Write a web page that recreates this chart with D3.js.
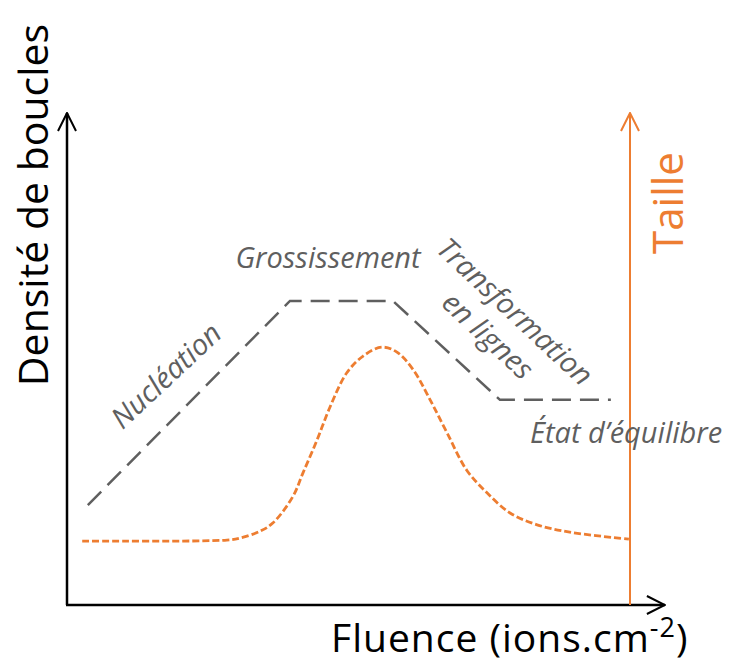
<!DOCTYPE html>
<html>
<head>
<meta charset="utf-8">
<script src="https://cdn.jsdelivr.net/npm/d3@7"></script>
<style>
  html, body { margin: 0; padding: 0; background: #fff; }
  svg { display: block; }
</style>
</head>
<body>
<svg id="chart" width="734" height="664"></svg>
<script>
// Loop density (schematic), fluence in arbitrary units 0..100
const densityFluence = [3.7, 39.6, 57.9, 76.9, 96.6];
const densityValues  = [20.3, 61.8, 61.8, 41.7, 41.7];

// Loop size (schematic)
const sizeFluence = [2.7, 28.4, 30.7, 34.3, 36.6, 40.1, 41.9, 44.4, 46.7, 49.7, 52.6, 55.9, 58.6, 61.5, 64.5, 67.5, 71.0, 74.6, 78.7, 83.5, 89.3, 99.8];
const sizeValues  = [13.0, 13.2, 13.6, 15.0, 16.7, 22.0, 26.8, 33.5, 40.2, 47.2, 50.6, 52.4, 51.4, 47.8, 41.7, 35.0, 27.4, 22.8, 18.7, 16.3, 14.8, 13.4];

// Stage labels
const stageLabels = ["Nucléation", "Grossissement", "Transformation", "en lignes", "État d’équilibre"];

const svg = d3.select("#chart");
const orange = "#ED7D31";
const grey = "#5f5f5f";
const font = "'Open Sans', 'Noto Sans', sans-serif";

const x = d3.scaleLinear().domain([0, 100]).range([67, 630]);
const y = d3.scaleLinear().domain([0, 100]).range([605, 113]);

// Arrow heads
const defs = svg.append("defs");
function arrowMarker(id, color) {
  defs.append("marker")
    .attr("id", id)
    .attr("viewBox", "0 0 20 20")
    .attr("refX", 19).attr("refY", 10)
    .attr("markerWidth", 20).attr("markerHeight", 20)
    .attr("markerUnits", "userSpaceOnUse")
    .attr("orient", "auto")
    .append("path")
    .attr("d", "M1,1 L19,10 L1,19")
    .attr("fill", "none")
    .attr("stroke", color)
    .attr("stroke-width", 2);
}
arrowMarker("arrowBlack", "#000");
arrowMarker("arrowOrange", orange);

// Left (density) axis
svg.append("line")
  .attr("x1", x(0)).attr("y1", y(0))
  .attr("x2", x(0)).attr("y2", y(100))
  .attr("stroke", "#000").attr("stroke-width", 2.5)
  .attr("marker-end", "url(#arrowBlack)");

// Fluence axis
svg.append("line")
  .attr("x1", x(0) - 1).attr("y1", y(0))
  .attr("x2", x(106.2)).attr("y2", y(0))
  .attr("stroke", "#000").attr("stroke-width", 2.5)
  .attr("marker-end", "url(#arrowBlack)");

// Right (size) axis
svg.append("line")
  .attr("x1", x(100)).attr("y1", y(0))
  .attr("x2", x(100)).attr("y2", y(100))
  .attr("stroke", orange).attr("stroke-width", 2)
  .attr("marker-end", "url(#arrowOrange)");

// Density curve
const densityLine = d3.line()
  .x((d, i) => x(densityFluence[i]))
  .y(d => y(d));
svg.append("path")
  .attr("d", densityLine(densityValues))
  .attr("fill", "none")
  .attr("stroke", grey)
  .attr("stroke-width", 2.5)
  .attr("stroke-dasharray", "19,9");

// Size curve
const sizeLine = d3.line()
  .x((d, i) => x(sizeFluence[i]))
  .y(d => y(d))
  .curve(d3.curveCatmullRom.alpha(0.5));
svg.append("path")
  .attr("d", sizeLine(sizeValues))
  .attr("fill", "none")
  .attr("stroke", orange)
  .attr("stroke-width", 2.8)
  .attr("stroke-dasharray", "7,3");

// Axis titles
svg.append("text")
  .attr("transform", "translate(48,205) rotate(-90)")
  .attr("text-anchor", "middle")
  .attr("font-family", font).attr("font-size", 41)
  .attr("fill", "#000")
  .text("Densité de boucles");

svg.append("text")
  .attr("transform", "translate(683,203) rotate(-90)")
  .attr("text-anchor", "middle")
  .attr("font-family", font).attr("font-size", 42)
  .attr("fill", orange)
  .text("Taille");

const fl = svg.append("text")
  .attr("x", 331).attr("y", 652)
  .attr("font-family", font).attr("font-size", 39)
  .attr("letter-spacing", 1)
  .attr("fill", "#000");
fl.append("tspan").text("Fluence (ions.cm");
fl.append("tspan").attr("font-size", 27).attr("dy", -15).text("-2");
fl.append("tspan").attr("dy", 15).text(")");

// Stage labels
function stage(txt, tx, ty, angle, anchor) {
  svg.append("text")
    .attr("transform", `translate(${tx},${ty}) rotate(${angle})`)
    .attr("text-anchor", anchor || "middle")
    .attr("font-family", font).attr("font-size", 29)
    .attr("font-style", "italic")
    .attr("fill", grey)
    .text(txt);
}
stage(stageLabels[0], 173, 383, -43);
stage(stageLabels[1], 328, 268, 0);
stage(stageLabels[2], 508, 319, 43);
stage(stageLabels[3], 481, 343, 43);
stage(stageLabels[4], 530, 443, 0, "start");
</script>
</body>
</html>
